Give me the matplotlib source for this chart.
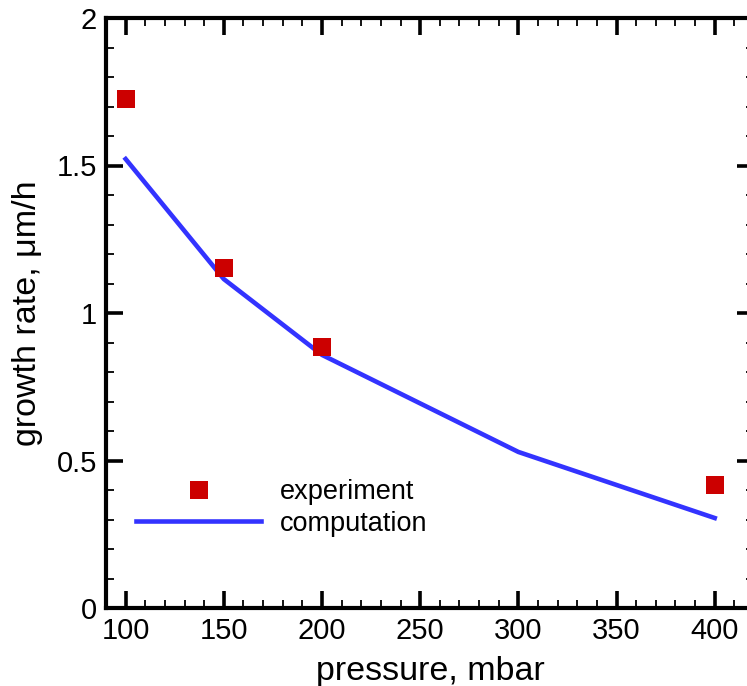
import matplotlib
matplotlib.use("Agg")
import matplotlib.pyplot as plt
from matplotlib.ticker import MultipleLocator

plt.rcParams["font.family"] = ["Liberation Sans", "DejaVu Sans"]

# experiment
exp_pressure = [100, 150, 200, 400]
exp_rate = [1.727, 1.154, 0.886, 0.417]

# computation
comp_pressure = [100, 150, 200, 300, 400]
comp_rate = [1.522, 1.115, 0.858, 0.529, 0.305]

RED = "#cc0000"
BLUE = "#3333ff"

fig = plt.figure(figsize=(7.47, 6.86), dpi=100)
# right spine sits just past the image edge in the original
ax = fig.add_axes([106 / 747, 1 - 608 / 686, 648 / 747, 590 / 686])

ax.plot(exp_pressure, exp_rate, "s", color=RED, markersize=13.3,
        markeredgewidth=0, label="experiment", clip_on=False, zorder=3)
ax.plot(comp_pressure, comp_rate, "-", color=BLUE, linewidth=3.3,
        label="computation")

ax.set_xlim(90, 420)
ax.set_ylim(0, 2)
ax.xaxis.set_major_locator(MultipleLocator(50))
ax.xaxis.set_minor_locator(MultipleLocator(10))
ax.yaxis.set_major_locator(MultipleLocator(0.5))
ax.yaxis.set_minor_locator(MultipleLocator(0.1))
ax.set_yticks([0, 0.5, 1, 1.5, 2])
ax.set_yticklabels(["0", "0.5", "1", "1.5", "2"])

for s in ax.spines.values():
    s.set_linewidth(3)
ax.tick_params(which="both", direction="in", top=True, right=True,
               labelsize=21, pad=6.5)
ax.tick_params(which="major", length=12, width=2.6)
ax.tick_params(which="minor", length=6, width=1.3)

ax.set_xlabel("pressure, mbar", fontsize=24.5, labelpad=8)
ax.set_ylabel("growth rate, \u03bcm/h", fontsize=24.5, labelpad=10)

ax.legend(loc="upper left", bbox_to_anchor=(0.047, 0.218), frameon=False,
          fontsize=19.5, handlelength=4.6, handletextpad=0.7,
          labelspacing=0.2, borderpad=0, borderaxespad=0)

fig.savefig("out.png", dpi=100)
